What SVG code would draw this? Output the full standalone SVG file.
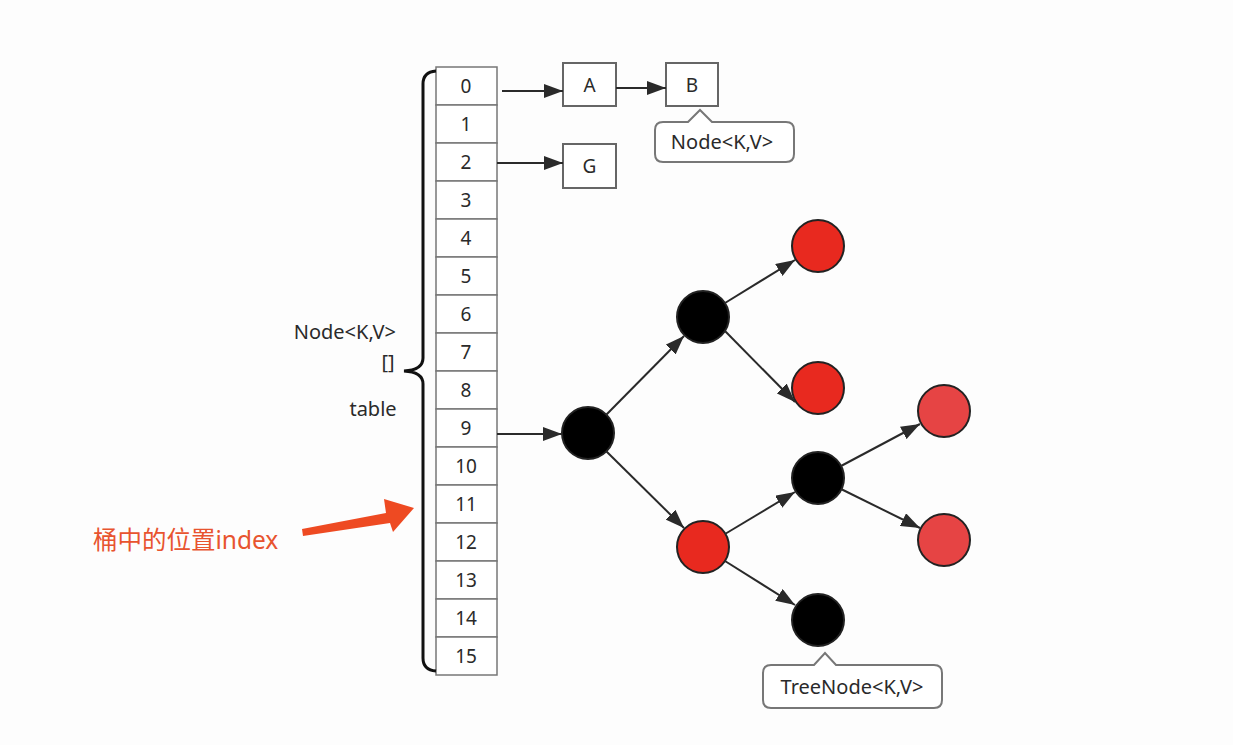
<svg xmlns="http://www.w3.org/2000/svg" width="1233" height="745" viewBox="0 0 1233 745">
<defs>
<marker id="ah" markerUnits="userSpaceOnUse" markerWidth="20" markerHeight="14" refX="19" refY="7" orient="auto">
<path d="M0,0 L19,7 L0,14 z" fill="#2a2a2a"/>
</marker>
<style>
.cell{fill:#fff;stroke:#777;stroke-width:1.5}
.num{font-family:"Noto Sans","Open Sans",sans-serif;font-size:19px;fill:#2a2a2a;text-anchor:middle}
.lbl{font-family:"Noto Sans","Open Sans",sans-serif;font-size:20px;fill:#2a2a2a}
.box{fill:#fff;stroke:#666;stroke-width:2}
.edge{stroke:#2a2a2a;stroke-width:2;fill:none;marker-end:url(#ah)}
.blk{fill:#000;stroke:#222;stroke-width:2}
.red{fill:#e8291f;stroke:#222;stroke-width:2}
.red2{fill:#e64444;stroke:#222;stroke-width:2}
.call{fill:#fff;stroke:#777;stroke-width:2}
</style>
</defs>
<rect width="1233" height="745" fill="#fdfdfd"/>

<g id="table">
<rect class="cell" x="436" y="67" width="61" height="38"/>
<rect class="cell" x="436" y="105" width="61" height="38"/>
<rect class="cell" x="436" y="143" width="61" height="38"/>
<rect class="cell" x="436" y="181" width="61" height="38"/>
<rect class="cell" x="436" y="219" width="61" height="38"/>
<rect class="cell" x="436" y="257" width="61" height="38"/>
<rect class="cell" x="436" y="295" width="61" height="38"/>
<rect class="cell" x="436" y="333" width="61" height="38"/>
<rect class="cell" x="436" y="371" width="61" height="38"/>
<rect class="cell" x="436" y="409" width="61" height="38"/>
<rect class="cell" x="436" y="447" width="61" height="38"/>
<rect class="cell" x="436" y="485" width="61" height="38"/>
<rect class="cell" x="436" y="523" width="61" height="38"/>
<rect class="cell" x="436" y="561" width="61" height="38"/>
<rect class="cell" x="436" y="599" width="61" height="38"/>
<rect class="cell" x="436" y="637" width="61" height="38"/>
<text class="num" x="466" y="93">0</text>
<text class="num" x="466" y="131">1</text>
<text class="num" x="466" y="169">2</text>
<text class="num" x="466" y="207">3</text>
<text class="num" x="466" y="245">4</text>
<text class="num" x="466" y="283">5</text>
<text class="num" x="466" y="321">6</text>
<text class="num" x="466" y="359">7</text>
<text class="num" x="466" y="397">8</text>
<text class="num" x="466" y="435">9</text>
<text class="num" x="466" y="473">10</text>
<text class="num" x="466" y="511">11</text>
<text class="num" x="466" y="549">12</text>
<text class="num" x="466" y="587">13</text>
<text class="num" x="466" y="625">14</text>
<text class="num" x="466" y="663">15</text>
</g>

<g id="brace">
<path d="M436,71 Q423,72 423,84 L423,358 Q423,370 404,371 Q423,372 423,384 L423,658 Q423,670 436,671" fill="none" stroke="#111" stroke-width="3"/>
<text class="lbl" x="396" y="339" text-anchor="end">Node&lt;K,V&gt;</text>
<text class="lbl" x="388" y="369" text-anchor="middle">[]</text>
<text class="lbl" x="373" y="416" text-anchor="middle">table</text>
</g>

<g id="nodeA"><rect class="box" x="563" y="63" width="53" height="43"/><text class="num" x="589.5" y="92">A</text></g>
<g id="nodeB"><rect class="box" x="666" y="63" width="52" height="43"/><text class="num" x="692" y="92">B</text></g>
<g id="nodeG"><rect class="box" x="563" y="144" width="53" height="44"/><text class="num" x="589.5" y="173">G</text></g>

<g id="callout-node">
<path class="call" d="M663,122 L688,122 L700,110 L712,122 L786,122 Q794,122 794,130 L794,154 Q794,162 786,162 L663,162 Q655,162 655,154 L655,130 Q655,122 663,122 z"/>
<text class="lbl" x="722" y="149" text-anchor="middle" font-size="19">Node&lt;K,V&gt;</text>
</g>

<g id="tree-root"><circle class="blk" cx="588" cy="433" r="26"/></g>
<g id="tree-b1"><circle class="blk" cx="703" cy="317" r="26"/></g>
<g id="tree-r1"><circle class="red" cx="703" cy="547" r="26"/></g>
<g id="tree-r2"><circle class="red" cx="818" cy="246" r="26"/></g>
<g id="tree-r3"><circle class="red" cx="818" cy="388" r="26"/></g>
<g id="tree-b2"><circle class="blk" cx="818" cy="478" r="26"/></g>
<g id="tree-b3"><circle class="blk" cx="818" cy="620" r="26"/></g>
<g id="tree-r4"><circle class="red2" cx="944" cy="411" r="26"/></g>
<g id="tree-r5"><circle class="red2" cx="944" cy="540" r="26"/></g>

<g id="callout-treenode">
<path class="call" d="M771,665 L814,665 L825,653 L836,665 L934,665 Q942,665 942,673 L942,700 Q942,708 934,708 L771,708 Q763,708 763,700 L763,673 Q763,665 771,665 z"/>
<text class="lbl" x="852" y="694" text-anchor="middle" font-size="19">TreeNode&lt;K,V&gt;</text>
</g>

<g id="index-label">
<text x="93" y="549" font-family="'Noto Sans','Noto Sans CJK SC',sans-serif" font-size="24.5" fill="#e8542f">桶中的位置index</text>
<path d="M302,529 L386,513 L384,499 L414,508 L393,532 L390,523 L303,536 z" fill="#ee4a22"/>
</g>

<g id="connectors">
<line class="edge" x1="502" y1="91" x2="563" y2="91"/>
<line class="edge" x1="616" y1="88" x2="666" y2="88"/>
<line class="edge" x1="497" y1="163" x2="563" y2="163"/>
<line class="edge" x1="497" y1="434" x2="562" y2="434"/>
<line class="edge" x1="606" y1="415" x2="684" y2="336"/>
<line class="edge" x1="606" y1="451" x2="684" y2="528"/>
<line class="edge" x1="725" y1="303" x2="795" y2="260"/>
<line class="edge" x1="725" y1="331" x2="795" y2="402"/>
<line class="edge" x1="725" y1="534" x2="795" y2="492"/>
<line class="edge" x1="725" y1="561" x2="795" y2="605"/>
<line class="edge" x1="841" y1="466" x2="920" y2="424"/>
<line class="edge" x1="841" y1="489" x2="920" y2="528"/>
</g>
</svg>
